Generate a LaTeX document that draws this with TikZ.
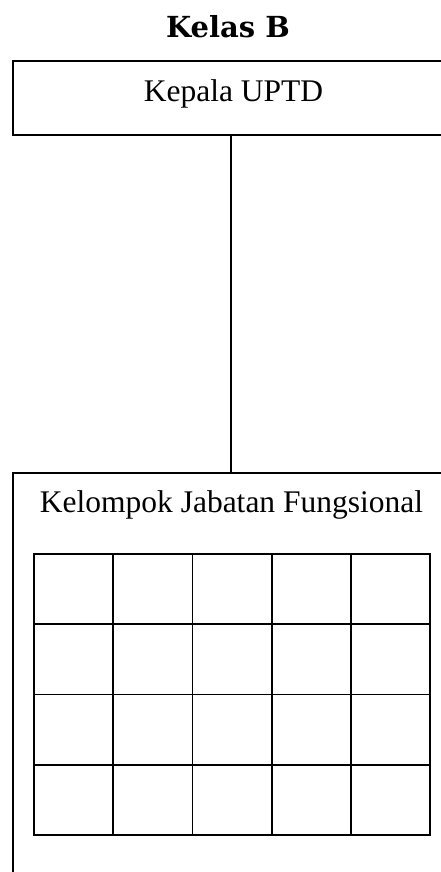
\documentclass[tikz,border=0pt]{standalone}
\usepackage{fontspec}
\setmainfont{Liberation Serif}
\newfontfamily\judulfont{DejaVu Serif}
\usetikzlibrary{positioning}

\begin{document}
\begin{tikzpicture}[
    x=1pt,y=-1pt,
    judul/.style = {font=\judulfont\bfseries\fontsize{29}{34}\selectfont,
                    inner sep=0pt,anchor=base},
    teks/.style  = {font=\fontsize{31.5}{36}\selectfont,inner sep=0pt,anchor=base},
    kotak/.style = {rectangle,draw=black,line width=2.3pt,inner sep=0pt},
    sel/.style   = {rectangle,draw=black,line width=1.8pt,inner sep=0pt,
                    minimum width=79.2pt,minimum height=70.25pt},
    garis/.style = {draw=black,line width=2pt},
  ]
  \useasboundingbox (0,0) rectangle (441,872);
  \clip (0,0) rectangle (441,872);

  % judul
  \node[judul] (judul) at (228,37.3) {Kelas B};

  % kotak kepala
  \node[kotak,minimum width=436pt,minimum height=74.3pt] (kepala) at (231,97.85) {};
  \node[teks] (kepalatxt) at (233.5,101.7) {Kepala UPTD};

  % kotak kelompok fungsional
  \node[kotak,minimum width=436pt,minimum height=427pt] (kelompok) at (231,686.5) {};
  \node[teks] (kelompoktxt) at (231.5,512.7) {Kelompok Jabatan Fungsional};

  % tabel
  \foreach \r in {0,...,3}
    \foreach \c in {0,...,4}
      \node[sel] (sel-\r-\c) at (73.6+79.2*\c,589.1+70.25*\r) {};

  % garis
  \draw[garis] (kepala.south) -- (kelompok.north);

\end{tikzpicture}
\end{document}
